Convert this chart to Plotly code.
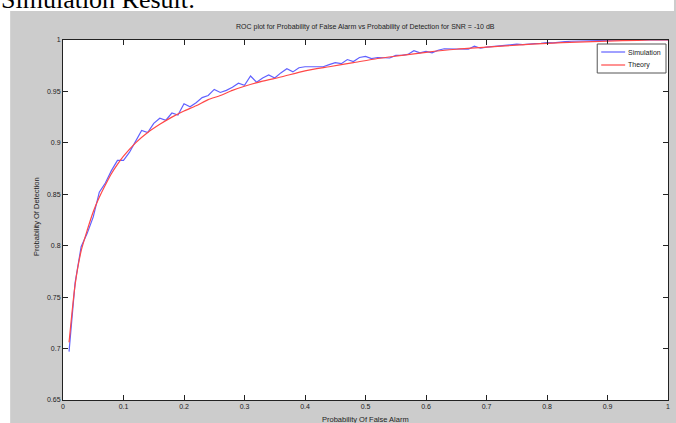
import plotly.graph_objects as go

# ---------------- data ----------------
pfa_sim = [round(0.01 * i, 2) for i in range(1, 101)]
pd_sim = [0.697, 0.764, 0.799, 0.812, 0.828, 0.852, 0.861, 0.873, 0.883, 0.883,
          0.891, 0.901, 0.912, 0.910, 0.919, 0.924, 0.922, 0.929, 0.927, 0.938,
          0.935, 0.939, 0.944, 0.946, 0.952, 0.949, 0.951, 0.954, 0.958, 0.956,
          0.965, 0.959, 0.963, 0.966, 0.963, 0.968, 0.972, 0.969, 0.973, 0.974,
          0.974, 0.974, 0.974, 0.976, 0.978, 0.977, 0.981, 0.979, 0.983, 0.984,
          0.982, 0.983, 0.9825, 0.9825, 0.985, 0.985, 0.986, 0.9896, 0.9875, 0.989,
          0.9875, 0.990, 0.9915, 0.9915, 0.9915, 0.991, 0.991, 0.994, 0.992, 0.993,
          0.9935, 0.9942, 0.9945, 0.995, 0.996, 0.9955, 0.9962, 0.9965, 0.9968, 0.9975,
          0.9972, 0.998, 0.9985, 0.9988, 0.999, 0.9992, 0.9995, 0.9993, 0.9998, 1.0,
          1.0, 0.9998, 1.0, 1.0, 1.0, 1.0, 1.0, 1.0, 1.0, 1.0]

pfa_theory = [0.01, 0.02, 0.03, 0.04, 0.05, 0.06, 0.07, 0.08, 0.09, 0.10,
              0.12, 0.14, 0.16, 0.18, 0.20, 0.22, 0.24, 0.26, 0.28, 0.30,
              0.33, 0.36, 0.40, 0.44, 0.48, 0.52, 0.56, 0.60, 0.65, 0.70,
              0.75, 0.80, 0.85, 0.90, 0.95, 0.97, 1.00]
pd_theory = [0.706, 0.762, 0.795, 0.815, 0.833, 0.847, 0.859, 0.870, 0.879, 0.887,
             0.900, 0.910, 0.918, 0.925, 0.931, 0.936, 0.942, 0.946, 0.951, 0.955,
             0.960, 0.964, 0.970, 0.974, 0.978, 0.982, 0.985, 0.988, 0.991, 0.993,
             0.995, 0.9968, 0.998, 0.999, 0.9997, 1.0, 1.0]

x_ticks = [0, 0.1, 0.2, 0.3, 0.4, 0.5, 0.6, 0.7, 0.8, 0.9, 1]
x_tick_labels = ["0", "0.1", "0.2", "0.3", "0.4", "0.5", "0.6", "0.7", "0.8", "0.9", "1"]
y_ticks = [0.65, 0.7, 0.75, 0.8, 0.85, 0.9, 0.95, 1]
y_tick_labels = ["0.65", "0.7", "0.75", "0.8", "0.85", "0.9", "0.95", "1"]

series_names = ["Simulation", "Theory"]
series_colors = ["#6060ff", "#ff4848"]

title_text = "ROC plot for Probability of False Alarm vs Probability of Detection for SNR = -10 dB"
x_title = "Probability Of False Alarm"
y_title = "Probability Of Detection"
caption = "Simulation Result:"

# ---------------- layout geometry ----------------
W, H = 676, 423
ML, MR, MT, MB = 63, 6, 40, 23
PW, PH = W - ML - MR, H - MT - MB


def px(xp):
    return (xp - ML) / PW


def py(yp):
    return (H - MB - yp) / PH


FONT = "Liberation Sans, Arial, sans-serif"
TXT = "#222222"

fig = go.Figure()
fig.add_trace(go.Scatter(x=pfa_sim, y=pd_sim, mode="lines", name=series_names[0],
                         line=dict(color=series_colors[0], width=1.2)))
fig.add_trace(go.Scatter(x=pfa_theory, y=pd_theory, mode="lines", name=series_names[1],
                         line=dict(color=series_colors[1], width=1.2, shape="spline", smoothing=0.6)))

axis_common = dict(showline=True, linecolor=TXT, linewidth=1, mirror="allticks",
                   ticks="inside", ticklen=5, tickcolor=TXT, showgrid=False,
                   zeroline=False, tickfont=dict(family=FONT, size=7, color=TXT))

fig.update_xaxes(range=[0, 1], tickvals=x_ticks, ticktext=x_tick_labels, **axis_common)
fig.update_yaxes(range=[0.65, 1], tickvals=y_ticks, ticktext=y_tick_labels, **axis_common)

shapes = [
    dict(type="rect", xref="paper", yref="paper", x0=px(0), x1=px(W), y0=py(11), y1=py(-5),
         fillcolor="white", line=dict(width=0), layer="below"),
    dict(type="rect", xref="paper", yref="paper", x0=px(-5), x1=px(10), y0=py(H + 5), y1=py(-5),
         fillcolor="white", line=dict(width=0), layer="below"),
    # legend box
    dict(type="rect", xref="paper", yref="paper", x0=px(599), x1=px(668), y0=py(73), y1=py(44),
         fillcolor="white", line=dict(color="#555555", width=1), layer="above"),
]

annotations = [
    dict(text=title_text, xref="paper", yref="paper", x=0.5, y=py(27), xanchor="center",
         yanchor="middle", showarrow=False, font=dict(family=FONT, size=7, color=TXT)),
    dict(text=x_title, xref="paper", yref="paper", x=0.5, y=py(413), xanchor="center",
         yanchor="top", showarrow=False, font=dict(family=FONT, size=7.5, color=TXT)),
    dict(text=y_title, xref="paper", yref="paper", x=px(36), y=py(217), xanchor="center",
         yanchor="middle", textangle=-90, showarrow=False,
         font=dict(family=FONT, size=7.5, color=TXT)),
    dict(text=caption, xref="paper", yref="paper", x=px(-1), y=py(16), xanchor="left",
         yanchor="bottom", showarrow=False,
         font=dict(family="Liberation Serif, Times New Roman, serif", size=26, color="black")),
]

# hand-drawn MATLAB-style legend
legend_rows = [52, 65]
for name, color, row in zip(series_names, series_colors, legend_rows):
    shapes.append(dict(type="line", xref="paper", yref="paper", x0=px(603), x1=px(627),
                       y0=py(row), y1=py(row), line=dict(color=color, width=1.2), layer="above"))
    annotations.append(dict(text=name, xref="paper", yref="paper", x=px(628), y=py(row),
                            xanchor="left", yanchor="middle", showarrow=False,
                            font=dict(family=FONT, size=7, color=TXT)))

fig.update_layout(
    width=W, height=H, autosize=False,
    margin=dict(l=ML, r=MR, t=MT, b=MB, pad=0),
    paper_bgcolor="#cccccc", plot_bgcolor="white",
    showlegend=False,
    shapes=shapes,
    annotations=annotations,
)

fig.write_html("out.html")
